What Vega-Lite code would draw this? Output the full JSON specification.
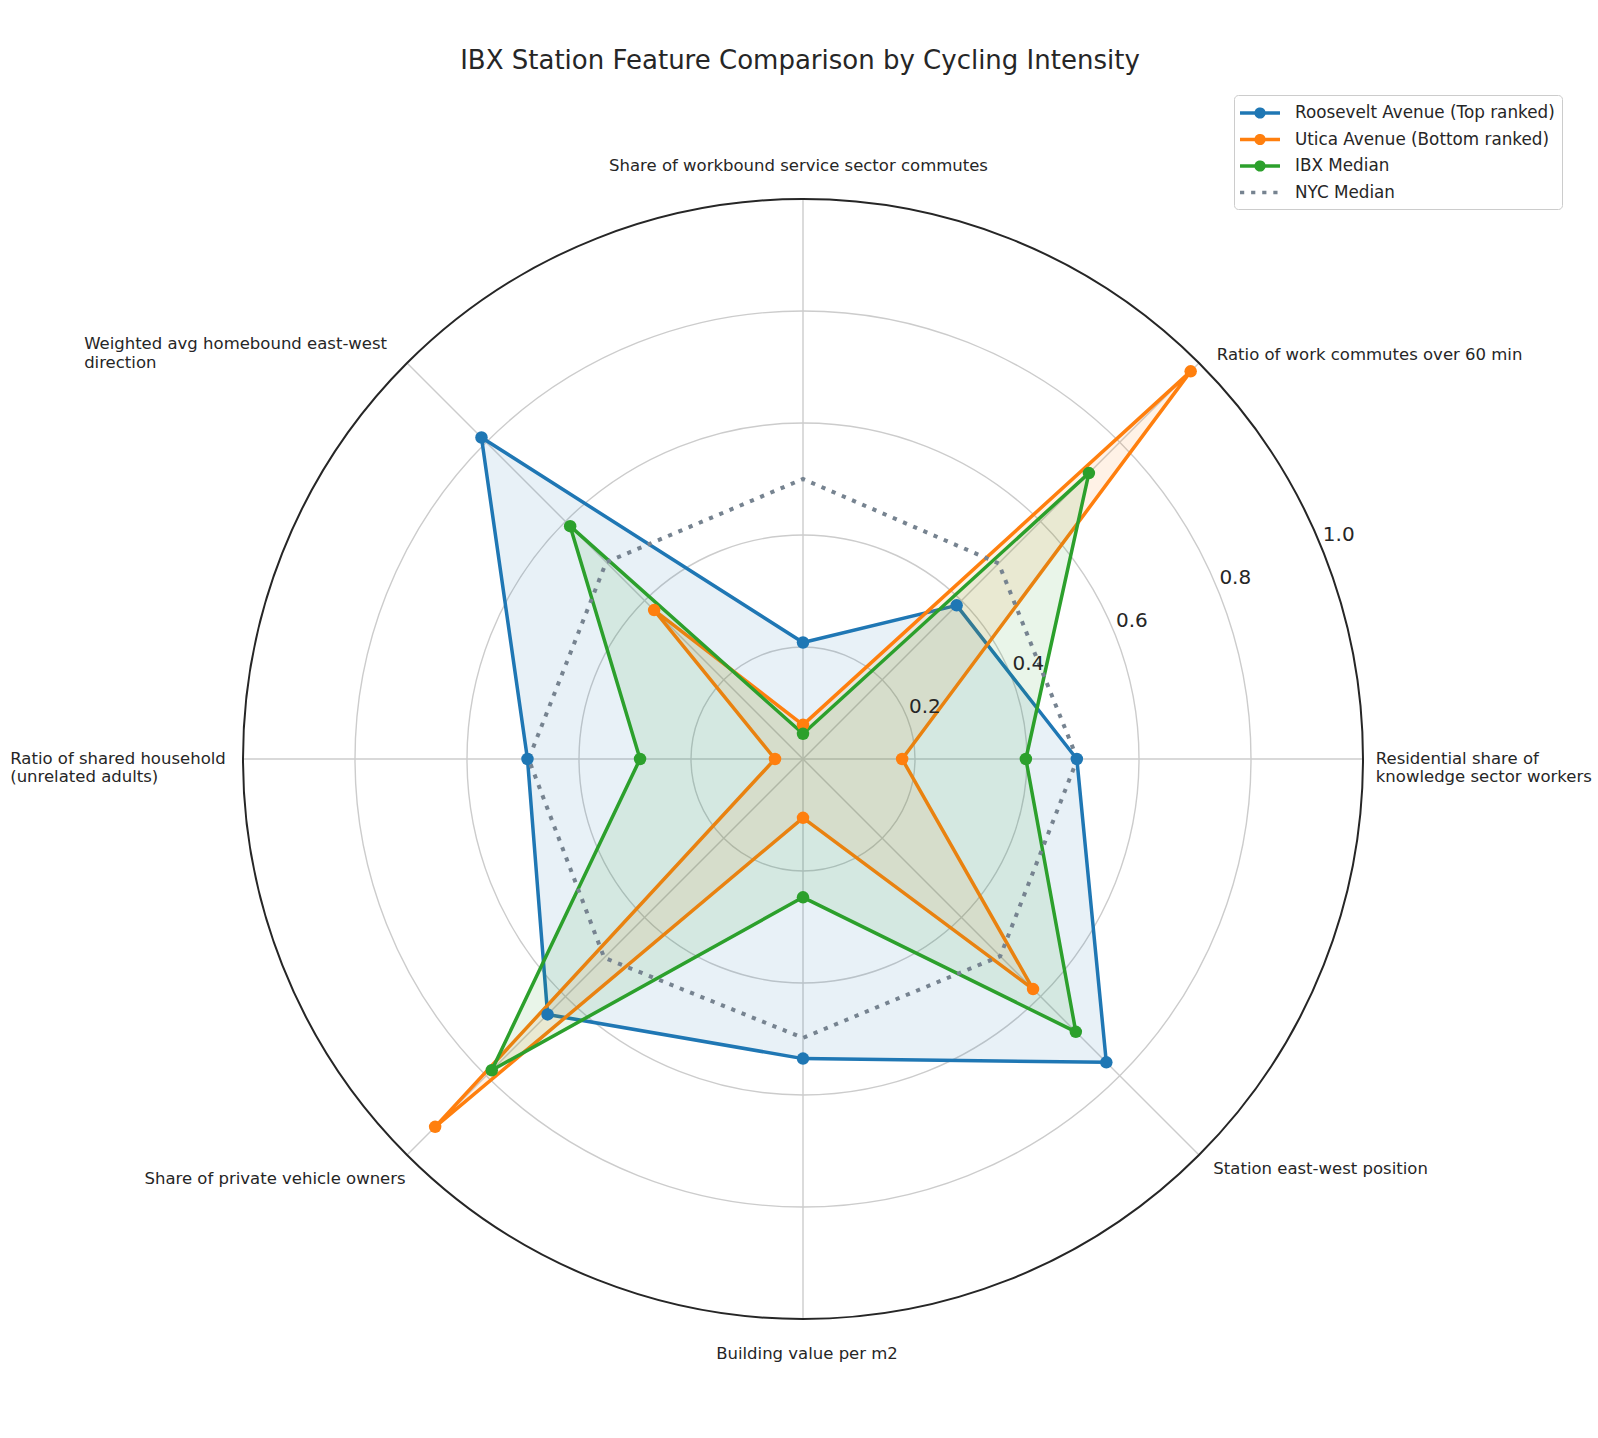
{
  "$schema": "https://vega.github.io/schema/vega-lite/v6.json",
  "width": 1120,
  "height": 1120,
  "autosize": {"type": "none"},
  "padding": {"left": 243, "top": 199, "right": 235, "bottom": 119},
  "background": "white",
  "title": {"text": "IBX Station Feature Comparison by Cycling Intensity", "font": "DejaVu Sans", "fontSize": 26, "fontWeight": "normal", "color": "#262626", "anchor": "middle", "frame": "group", "offset": 8, "baseline": "middle", "dx": -3},
  "config": {"view": {"stroke": null}, "font": "DejaVu Sans"},
  "datasets": {
    "values": [
      {"series": "Roosevelt Avenue (Top ranked)", "idx": 0, "value": 0.489},
      {"series": "Roosevelt Avenue (Top ranked)", "idx": 1, "value": 0.388},
      {"series": "Roosevelt Avenue (Top ranked)", "idx": 2, "value": 0.208},
      {"series": "Roosevelt Avenue (Top ranked)", "idx": 3, "value": 0.812},
      {"series": "Roosevelt Avenue (Top ranked)", "idx": 4, "value": 0.492},
      {"series": "Roosevelt Avenue (Top ranked)", "idx": 5, "value": 0.645},
      {"series": "Roosevelt Avenue (Top ranked)", "idx": 6, "value": 0.535},
      {"series": "Roosevelt Avenue (Top ranked)", "idx": 7, "value": 0.766},
      {"series": "Utica Avenue (Bottom ranked)", "idx": 0, "value": 0.177},
      {"series": "Utica Avenue (Bottom ranked)", "idx": 1, "value": 0.979},
      {"series": "Utica Avenue (Bottom ranked)", "idx": 2, "value": 0.061},
      {"series": "Utica Avenue (Bottom ranked)", "idx": 3, "value": 0.376},
      {"series": "Utica Avenue (Bottom ranked)", "idx": 4, "value": 0.05},
      {"series": "Utica Avenue (Bottom ranked)", "idx": 5, "value": 0.929},
      {"series": "Utica Avenue (Bottom ranked)", "idx": 6, "value": 0.105},
      {"series": "Utica Avenue (Bottom ranked)", "idx": 7, "value": 0.581},
      {"series": "IBX Median", "idx": 0, "value": 0.398},
      {"series": "IBX Median", "idx": 1, "value": 0.722},
      {"series": "IBX Median", "idx": 2, "value": 0.045},
      {"series": "IBX Median", "idx": 3, "value": 0.588},
      {"series": "IBX Median", "idx": 4, "value": 0.291},
      {"series": "IBX Median", "idx": 5, "value": 0.786},
      {"series": "IBX Median", "idx": 6, "value": 0.247},
      {"series": "IBX Median", "idx": 7, "value": 0.689},
      {"series": "NYC Median", "idx": 0, "value": 0.49},
      {"series": "NYC Median", "idx": 1, "value": 0.494},
      {"series": "NYC Median", "idx": 2, "value": 0.5},
      {"series": "NYC Median", "idx": 3, "value": 0.497},
      {"series": "NYC Median", "idx": 4, "value": 0.49},
      {"series": "NYC Median", "idx": 5, "value": 0.502},
      {"series": "NYC Median", "idx": 6, "value": 0.498},
      {"series": "NYC Median", "idx": 7, "value": 0.498}
    ],
    "axes": [
      {"idx": 0, "label": "Residential share of\nknowledge sector workers"},
      {"idx": 1, "label": "Ratio of work commutes over 60 min"},
      {"idx": 2, "label": "Share of workbound service sector commutes"},
      {"idx": 3, "label": "Weighted avg homebound east-west\ndirection"},
      {"idx": 4, "label": "Ratio of shared household\n(unrelated adults)"},
      {"idx": 5, "label": "Share of private vehicle owners"},
      {"idx": 6, "label": "Building value per m2"},
      {"idx": 7, "label": "Station east-west position"}
    ],
    "rings": [{"r": 0.2}, {"r": 0.4}, {"r": 0.6}, {"r": 0.8}, {"r": 1.0}]
  },
  "layer": [
    {
      "data": {"name": "rings"},
      "transform": [{"filter": "datum.r < 1"}],
      "mark": {"type": "point", "shape": "circle", "filled": false, "color": "#cccccc", "strokeWidth": 1.4, "opacity": 1},
      "encoding": {
        "x": {"datum": 0, "type": "quantitative", "scale": {"domain": [-1, 1], "nice": false, "zero": false}, "axis": null},
        "y": {"datum": 0, "type": "quantitative", "scale": {"domain": [-1, 1], "nice": false, "zero": false}, "axis": null},
        "size": {"field": "r", "type": "quantitative", "scale": {"type": "pow", "exponent": 2, "domain": [0, 1], "range": [0, 1254400]}, "legend": null}
      }
    },
    {
      "data": {"name": "axes"},
      "transform": [
        {"calculate": "cos(datum.idx * PI / 4)", "as": "px"},
        {"calculate": "sin(datum.idx * PI / 4)", "as": "py"}
      ],
      "mark": {"type": "rule", "color": "#cccccc", "strokeWidth": 1.4},
      "encoding": {
        "x": {"field": "px", "type": "quantitative", "scale": {"domain": [-1, 1], "nice": false, "zero": false}, "axis": null},
        "y": {"field": "py", "type": "quantitative", "scale": {"domain": [-1, 1], "nice": false, "zero": false}, "axis": null},
        "x2": {"datum": 0},
        "y2": {"datum": 0}
      }
    },
    {
      "data": {"name": "rings"},
      "transform": [{"filter": "datum.r >= 1"}],
      "mark": {"type": "point", "shape": "circle", "filled": false, "color": "#262626", "strokeWidth": 2, "opacity": 1},
      "encoding": {
        "x": {"datum": 0, "type": "quantitative", "scale": {"domain": [-1, 1], "nice": false, "zero": false}, "axis": null},
        "y": {"datum": 0, "type": "quantitative", "scale": {"domain": [-1, 1], "nice": false, "zero": false}, "axis": null},
        "size": {"field": "r", "type": "quantitative", "scale": {"type": "pow", "exponent": 2, "domain": [0, 1], "range": [0, 1254400]}, "legend": null}
      }
    },
    {
      "data": {"name": "values"},
      "transform": [
        {"filter": "datum.series !== 'NYC Median'"},
        {"calculate": "datum.value * cos(datum.idx * PI / 4)", "as": "px"},
        {"calculate": "datum.value * sin(datum.idx * PI / 4)", "as": "py"}
      ],
      "mark": {"type": "line", "interpolate": "linear-closed", "strokeWidth": 3.5, "strokeJoin": "round", "fillOpacity": 0.1},
      "encoding": {
        "x": {"field": "px", "type": "quantitative", "scale": {"domain": [-1, 1], "nice": false, "zero": false}, "axis": null},
        "y": {"field": "py", "type": "quantitative", "scale": {"domain": [-1, 1], "nice": false, "zero": false}, "axis": null},
        "order": {"field": "idx", "type": "quantitative"},
        "stroke": {"field": "series", "type": "nominal", "scale": {"domain": ["Roosevelt Avenue (Top ranked)", "Utica Avenue (Bottom ranked)", "IBX Median", "NYC Median"], "range": ["#1f77b4", "#ff7f0e", "#2ca02c", "#768390"]}},
        "fill": {"field": "series", "type": "nominal", "scale": {"domain": ["Roosevelt Avenue (Top ranked)", "Utica Avenue (Bottom ranked)", "IBX Median", "NYC Median"], "range": ["#1f77b4", "#ff7f0e", "#2ca02c", "#768390"]}}
      }
    },
    {
      "data": {"name": "values"},
      "transform": [
        {"filter": "datum.series === 'NYC Median'"},
        {"calculate": "datum.value * cos(datum.idx * PI / 4)", "as": "px"},
        {"calculate": "datum.value * sin(datum.idx * PI / 4)", "as": "py"}
      ],
      "mark": {"type": "line", "interpolate": "linear-closed", "strokeWidth": 4, "strokeCap": "butt"},
      "encoding": {
        "x": {"field": "px", "type": "quantitative", "scale": {"domain": [-1, 1], "nice": false, "zero": false}, "axis": null},
        "y": {"field": "py", "type": "quantitative", "scale": {"domain": [-1, 1], "nice": false, "zero": false}, "axis": null},
        "order": {"field": "idx", "type": "quantitative"},
        "stroke": {"field": "series", "type": "nominal", "scale": {"domain": ["Roosevelt Avenue (Top ranked)", "Utica Avenue (Bottom ranked)", "IBX Median", "NYC Median"], "range": ["#1f77b4", "#ff7f0e", "#2ca02c", "#768390"]}},
        "strokeDash": {"field": "series", "type": "nominal", "scale": {"domain": ["Roosevelt Avenue (Top ranked)", "Utica Avenue (Bottom ranked)", "IBX Median", "NYC Median"], "range": [[1, 0], [1, 0], [1, 0], [4.2, 6.9]]}}
      }
    },
    {
      "data": {"name": "values"},
      "transform": [
        {"filter": "datum.series !== 'NYC Median'"},
        {"calculate": "datum.value * cos(datum.idx * PI / 4)", "as": "px"},
        {"calculate": "datum.value * sin(datum.idx * PI / 4)", "as": "py"}
      ],
      "mark": {"type": "point", "shape": "circle", "filled": true, "size": 156, "opacity": 1},
      "encoding": {
        "x": {"field": "px", "type": "quantitative", "scale": {"domain": [-1, 1], "nice": false, "zero": false}, "axis": null},
        "y": {"field": "py", "type": "quantitative", "scale": {"domain": [-1, 1], "nice": false, "zero": false}, "axis": null},
        "fill": {"field": "series", "type": "nominal", "scale": {"domain": ["Roosevelt Avenue (Top ranked)", "Utica Avenue (Bottom ranked)", "IBX Median", "NYC Median"], "range": ["#1f77b4", "#ff7f0e", "#2ca02c", "#768390"]}}
      }
    },
    {
      "data": {"name": "rings"},
      "transform": [
        {"calculate": "datum.r * cos(PI / 8)", "as": "px"},
        {"calculate": "datum.r * sin(PI / 8)", "as": "py"}
      ],
      "mark": {"type": "text", "align": "left", "baseline": "alphabetic", "dx": 2.5, "dy": -3.5, "fontSize": 20, "font": "DejaVu Sans", "color": "#262626"},
      "encoding": {
        "x": {"field": "px", "type": "quantitative", "scale": {"domain": [-1, 1], "nice": false, "zero": false}, "axis": null},
        "y": {"field": "py", "type": "quantitative", "scale": {"domain": [-1, 1], "nice": false, "zero": false}, "axis": null},
        "text": {"field": "r", "type": "quantitative", "format": ".1f"}
      }
    },
    {
      "data": {"name": "axes"},
      "transform": [{"filter": "datum.idx == 0"}, {"calculate": "1.03 * cos(datum.idx * PI / 4)", "as": "px"}, {"calculate": "1.03 * sin(datum.idx * PI / 4)", "as": "py"}],
      "mark": {"type": "text", "align": "left", "baseline": "middle", "dx": -4, "dy": 0, "fontSize": 16.5, "font": "DejaVu Sans", "lineBreak": "\n", "lineHeight": 18.4, "color": "#262626"},
      "encoding": {
        "x": {"field": "px", "type": "quantitative", "scale": {"domain": [-1, 1], "nice": false, "zero": false}, "axis": null},
        "y": {"field": "py", "type": "quantitative", "scale": {"domain": [-1, 1], "nice": false, "zero": false}, "axis": null},
        "text": {"field": "label"}
      }
    },
    {
      "data": {"name": "axes"},
      "transform": [{"filter": "datum.idx == 1"}, {"calculate": "1.03 * cos(datum.idx * PI / 4)", "as": "px"}, {"calculate": "1.03 * sin(datum.idx * PI / 4)", "as": "py"}],
      "mark": {"type": "text", "align": "left", "baseline": "middle", "dx": 6, "dy": 3.5, "fontSize": 16.5, "font": "DejaVu Sans", "lineBreak": "\n", "lineHeight": 18.4, "color": "#262626"},
      "encoding": {
        "x": {"field": "px", "type": "quantitative", "scale": {"domain": [-1, 1], "nice": false, "zero": false}, "axis": null},
        "y": {"field": "py", "type": "quantitative", "scale": {"domain": [-1, 1], "nice": false, "zero": false}, "axis": null},
        "text": {"field": "label"}
      }
    },
    {
      "data": {"name": "axes"},
      "transform": [{"filter": "datum.idx == 2"}, {"calculate": "1.03 * cos(datum.idx * PI / 4)", "as": "px"}, {"calculate": "1.03 * sin(datum.idx * PI / 4)", "as": "py"}],
      "mark": {"type": "text", "align": "center", "baseline": "middle", "dx": -4.5, "dy": -16.5, "fontSize": 16.5, "font": "DejaVu Sans", "lineBreak": "\n", "lineHeight": 18.4, "color": "#262626"},
      "encoding": {
        "x": {"field": "px", "type": "quantitative", "scale": {"domain": [-1, 1], "nice": false, "zero": false}, "axis": null},
        "y": {"field": "py", "type": "quantitative", "scale": {"domain": [-1, 1], "nice": false, "zero": false}, "axis": null},
        "text": {"field": "label"}
      }
    },
    {
      "data": {"name": "axes"},
      "transform": [{"filter": "datum.idx == 3"}, {"calculate": "1.03 * cos(datum.idx * PI / 4)", "as": "px"}, {"calculate": "1.03 * sin(datum.idx * PI / 4)", "as": "py"}],
      "mark": {"type": "text", "align": "left", "baseline": "middle", "dx": -311, "dy": -6.7, "fontSize": 16.5, "font": "DejaVu Sans", "lineBreak": "\n", "lineHeight": 18.4, "color": "#262626"},
      "encoding": {
        "x": {"field": "px", "type": "quantitative", "scale": {"domain": [-1, 1], "nice": false, "zero": false}, "axis": null},
        "y": {"field": "py", "type": "quantitative", "scale": {"domain": [-1, 1], "nice": false, "zero": false}, "axis": null},
        "text": {"field": "label"}
      }
    },
    {
      "data": {"name": "axes"},
      "transform": [{"filter": "datum.idx == 4"}, {"calculate": "1.03 * cos(datum.idx * PI / 4)", "as": "px"}, {"calculate": "1.03 * sin(datum.idx * PI / 4)", "as": "py"}],
      "mark": {"type": "text", "align": "left", "baseline": "middle", "dx": -216, "dy": 0, "fontSize": 16.5, "font": "DejaVu Sans", "lineBreak": "\n", "lineHeight": 18.4, "color": "#262626"},
      "encoding": {
        "x": {"field": "px", "type": "quantitative", "scale": {"domain": [-1, 1], "nice": false, "zero": false}, "axis": null},
        "y": {"field": "py", "type": "quantitative", "scale": {"domain": [-1, 1], "nice": false, "zero": false}, "axis": null},
        "text": {"field": "label"}
      }
    },
    {
      "data": {"name": "axes"},
      "transform": [{"filter": "datum.idx == 5"}, {"calculate": "1.03 * cos(datum.idx * PI / 4)", "as": "px"}, {"calculate": "1.03 * sin(datum.idx * PI / 4)", "as": "py"}],
      "mark": {"type": "text", "align": "right", "baseline": "middle", "dx": 10.5, "dy": 12, "fontSize": 16.5, "font": "DejaVu Sans", "lineBreak": "\n", "lineHeight": 18.4, "color": "#262626"},
      "encoding": {
        "x": {"field": "px", "type": "quantitative", "scale": {"domain": [-1, 1], "nice": false, "zero": false}, "axis": null},
        "y": {"field": "py", "type": "quantitative", "scale": {"domain": [-1, 1], "nice": false, "zero": false}, "axis": null},
        "text": {"field": "label"}
      }
    },
    {
      "data": {"name": "axes"},
      "transform": [{"filter": "datum.idx == 6"}, {"calculate": "1.03 * cos(datum.idx * PI / 4)", "as": "px"}, {"calculate": "1.03 * sin(datum.idx * PI / 4)", "as": "py"}],
      "mark": {"type": "text", "align": "center", "baseline": "middle", "dx": 4, "dy": 18.3, "fontSize": 16.5, "font": "DejaVu Sans", "lineBreak": "\n", "lineHeight": 18.4, "color": "#262626"},
      "encoding": {
        "x": {"field": "px", "type": "quantitative", "scale": {"domain": [-1, 1], "nice": false, "zero": false}, "axis": null},
        "y": {"field": "py", "type": "quantitative", "scale": {"domain": [-1, 1], "nice": false, "zero": false}, "axis": null},
        "text": {"field": "label"}
      }
    },
    {
      "data": {"name": "axes"},
      "transform": [{"filter": "datum.idx == 7"}, {"calculate": "1.03 * cos(datum.idx * PI / 4)", "as": "px"}, {"calculate": "1.03 * sin(datum.idx * PI / 4)", "as": "py"}],
      "mark": {"type": "text", "align": "left", "baseline": "middle", "dx": 2.5, "dy": 2, "fontSize": 16.5, "font": "DejaVu Sans", "lineBreak": "\n", "lineHeight": 18.4, "color": "#262626"},
      "encoding": {
        "x": {"field": "px", "type": "quantitative", "scale": {"domain": [-1, 1], "nice": false, "zero": false}, "axis": null},
        "y": {"field": "py", "type": "quantitative", "scale": {"domain": [-1, 1], "nice": false, "zero": false}, "axis": null},
        "text": {"field": "label"}
      }
    },
    {
      "data": {"name": "values"},
      "transform": [{"filter": "datum.idx == 0"}],
      "mark": {"type": "point", "opacity": 0},
      "encoding": {
        "x": {"datum": 0, "type": "quantitative", "scale": {"domain": [-1, 1], "nice": false, "zero": false}, "axis": null},
        "y": {"datum": 0, "type": "quantitative", "scale": {"domain": [-1, 1], "nice": false, "zero": false}, "axis": null},
        "shape": {
          "field": "series",
          "type": "nominal",
          "scale": {
            "domain": ["Roosevelt Avenue (Top ranked)", "Utica Avenue (Bottom ranked)", "IBX Median", "NYC Median"],
            "range": [
              "M-2.22,0L2.22,0M0.43,0A0.43,0.43,0,1,1,-0.43,0A0.43,0.43,0,1,1,0.43,0Z",
              "M-2.22,0L2.22,0M0.43,0A0.43,0.43,0,1,1,-0.43,0A0.43,0.43,0,1,1,0.43,0Z",
              "M-2.22,0L2.22,0M0.43,0A0.43,0.43,0,1,1,-0.43,0A0.43,0.43,0,1,1,0.43,0Z",
              "M-2.22,0L2.22,0"
            ]
          },
          "legend": {
            "title": null,
            "orient": "none",
            "legendX": 991,
            "legendY": -104,
            "padding": 7,
            "rowPadding": 4.5,
            "strokeColor": "#cccccc",
            "fillColor": "#ffffff",
            "cornerRadius": 4,
            "symbolSize": 324,
            "symbolStrokeWidth": 3.5,
            "symbolOpacity": 1,
            "symbolOffset": 8,
            "labelOffset": 24,
            "labelFont": "DejaVu Sans",
            "labelFontSize": 16.8,
            "labelColor": "#262626",
            "labelLimit": 400
          }
        }
      }
    }
  ]
}
